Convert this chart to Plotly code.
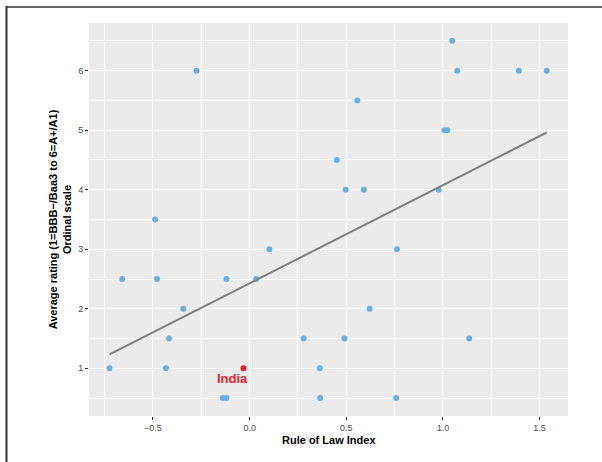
import numpy as np
import plotly.graph_objects as go

# ---- data ----
rule_of_law = [-0.275, 1.048, 1.074, 1.393, 1.537, 0.557, 1.008, 1.022, 0.451, 0.497,
               0.591, 0.978, -0.489, 0.102, 0.762, -0.659, -0.479, -0.120, 0.034, -0.343,
               0.621, -0.417, 0.279, 0.491, 1.136, -0.725, -0.433, 0.363, -0.138, -0.120,
               0.365, 0.758]
avg_rating = [6, 6.5, 6, 6, 6, 5.5, 5, 5, 4.5, 4,
              4, 4, 3.5, 3, 3, 2.5, 2.5, 2.5, 2.5, 2,
              2, 1.5, 1.5, 1.5, 1.5, 1, 1, 1, 0.5, 0.5,
              0.5, 0.5]
india_name = "India"
india_x = [-0.032]
india_y = [1.0]

x_ticks = [-0.5, 0.0, 0.5, 1.0, 1.5]
y_ticks = [1, 2, 3, 4, 5, 6]
x_title = "Rule of Law Index"
y_title = "Average rating (1=BBB−/Baa3 to 6=A+/A1)<br>Ordinal scale"

# ---- linear fit over all countries (incl. India), like geom_smooth(method="lm") ----
all_x = np.array(rule_of_law + india_x)
all_y = np.array(avg_rating + india_y)
slope, intercept = np.polyfit(all_x, all_y, 1)
fit_x = np.array([all_x.min(), all_x.max()])
fit_y = intercept + slope * fit_x

FONT = "Liberation Sans, Arial, Helvetica, sans-serif"

# plot-area geometry (pixels)
PL, PR, PT, PB = 89, 568, 23, 416
PW, PH = PR - PL, PB - PT

fig = go.Figure()
fig.add_trace(go.Scatter(x=rule_of_law, y=avg_rating, mode="markers",
                         marker=dict(color="#6CAEE0", size=6, line=dict(width=0)),
                         showlegend=False, hoverinfo="x+y"))
fig.add_trace(go.Scatter(x=fit_x, y=fit_y, mode="lines",
                         line=dict(color="#7F7F7F", width=2),
                         showlegend=False, hoverinfo="skip"))
fig.add_trace(go.Scatter(x=india_x, y=india_y, mode="markers",
                         marker=dict(color="#F0202A", size=6, line=dict(width=0)),
                         showlegend=False, hoverinfo="x+y"))
fig.add_annotation(x=india_x[0], y=india_y[0], text="<b>" + india_name + "</b>",
                   showarrow=False, xanchor="center", yanchor="middle",
                   xshift=-11, yshift=-10,
                   font=dict(family=FONT, size=13, color="#F0202A"))

# x-axis title
fig.add_annotation(xref="paper", yref="paper", x=0.5, y=(PB - 433) / PH,
                   text="<b>" + x_title + "</b>", showarrow=False,
                   xanchor="center", yanchor="top", borderpad=0,
                   font=dict(family=FONT, size=11, color="black"))

# outer frame (top and left edges visible in the reference)
fig.add_shape(type="line", xref="paper", yref="paper", layer="above",
              x0=(6 - PL) / PW, x1=(605 - PL) / PW,
              y0=(PB - 7) / PH, y1=(PB - 7) / PH,
              line=dict(color="#666666", width=2))
fig.add_shape(type="line", xref="paper", yref="paper", layer="above",
              x0=(6.5 - PL) / PW, x1=(6.5 - PL) / PW,
              y0=(PB - 6) / PH, y1=(PB - 470) / PH,
              line=dict(color="#333333", width=2))

axis_common = dict(
    showline=False, zeroline=False,
    gridcolor="white", gridwidth=1.4,
    ticks="outside", ticklen=3, tickwidth=1, tickcolor="#333333",
    tickfont=dict(family=FONT, size=9, color="#4D4D4D"),
)

fig.update_xaxes(
    **axis_common,
    range=[-0.831, 1.647],
    tickvals=x_ticks,
    tickformat=".1f",
    minor=dict(dtick=0.25, tick0=0, showgrid=True, gridcolor="white", gridwidth=0.7, ticks=""),
)
fig.update_yaxes(
    **axis_common,
    range=[0.199, 6.8],
    tickvals=y_ticks,
    minor=dict(dtick=0.5, tick0=0, showgrid=True, gridcolor="white", gridwidth=0.7, ticks=""),
    title=dict(text="<b>" + y_title + "</b>", standoff=4,
               font=dict(family=FONT, size=11, color="black")),
)

fig.update_layout(
    width=602, height=462,
    margin=dict(l=PL, r=602 - PR, t=PT, b=462 - PB, autoexpand=False),
    paper_bgcolor="white", plot_bgcolor="#EBEBEB",
    font=dict(family=FONT),
)

fig.write_html("out.html", config={"displayModeBar": False},
               post_script="document.body.style.margin='0';document.body.style.overflow='hidden';")
